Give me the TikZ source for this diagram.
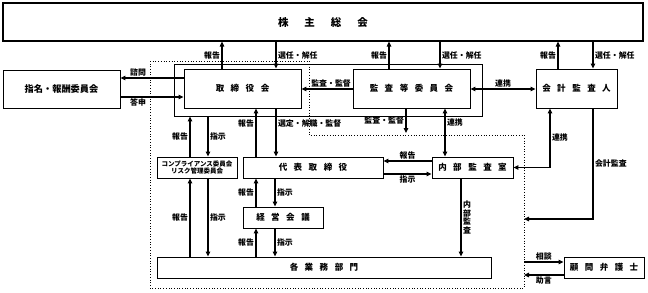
\documentclass[tikz,border=0pt]{standalone}
\usepackage{fontspec}
\setmainfont{Noto Sans CJK JP}
\usetikzlibrary{arrows.meta}
\newcommand\jg{\hspace{6.5pt}}
\newcommand\jgw{\hspace{16pt}}
\begin{document}
\begin{tikzpicture}[x=1pt,y=-1pt,
 box/.style={draw, line width=0.9pt, inner sep=0pt, font=\fontsize{8.5pt}{10pt}\selectfont\bfseries},
 lbl/.style={inner sep=1.5pt, font=\fontsize{7.9pt}{8.6pt}\selectfont\bfseries},
 arr/.style={line width=1.1pt, -{Triangle[length=5pt,width=4.5pt]}},
 darr/.style={line width=1.1pt, {Triangle[length=5pt,width=4.5pt]}-{Triangle[length=5pt,width=4.5pt]}},
 dots/.style={dotted, line width=0.7pt}]
\useasboundingbox (0,0) rectangle (648,292);
% boxes
\node[box, minimum width=640pt, minimum height=38pt, line width=1.2pt, font=\fontsize{10.5pt}{12pt}\selectfont\bfseries] (soukai) at (323,22) {株\jgw 主\jgw 総\jgw 会};
\node[box, minimum width=117pt, minimum height=38pt, font=\fontsize{9.2pt}{11pt}\selectfont\bfseries] (shimei) at (61.5,89) {指名・報酬委員会};
\node[box, minimum width=308pt, minimum height=52pt] (toriout) at (328,90) {};
\node[box, minimum width=117pt, minimum height=39pt] (tori) at (242.5,88.5) {取\jg 締\jg 役\jg 会};
\node[box, minimum width=117pt, minimum height=39pt] (kansa) at (411.5,88.5) {監\jg 査\jg 等\jg 委\jg 員\jg 会};
\node[box, minimum width=81pt, minimum height=39pt] (kaikei) at (576.5,88.5) {会\jg 計\jg 監\jg 査\jg 人};
\node[box, minimum width=80pt, minimum height=21pt, align=center, font=\fontsize{6.5pt}{7.6pt}\selectfont\bfseries] (comp) at (197,167.5) {コンプライアンス委員会\\リスク管理委員会};
\node[box, minimum width=140pt, minimum height=21pt] (daihyo) at (313,167.5) {代\jg 表\jg 取\jg 締\jg 役};
\node[box, minimum width=81pt, minimum height=21pt] (naibu) at (472.5,167.5) {内\jg 部\jg 監\jg 査\jg 室};
\node[box, minimum width=80pt, minimum height=21pt] (keiei) at (283,217.5) {経\jg 営\jg 会\jg 議};
\node[box, minimum width=334pt, minimum height=21pt] (gyomu) at (324,267.5) {各\jg 業\jg 務\jg 部\jg 門};
\node[box, minimum width=80pt, minimum height=21pt] (komon) at (604,267.5) {顧\jg 問\jg 弁\jg 護\jg 士};
% dotted region
\draw[dots] (150,61) -- (309,61) -- (309,135) -- (524,135) -- (524,288) -- (150,288) -- cycle;
\coordinate (kdend) at (406,133);
\coordinate (kaikeiin) at (524,219);
\coordinate (sodan) at (524,262);
\coordinate (jogen) at (524,275);
% connectors top
\draw[arr] (222,0 |- tori.north) -- node[lbl,left]{報告} (222,0 |- soukai.south);
\draw[arr] (276,0 |- soukai.south) -- node[lbl,right]{選任・解任} (276,0 |- tori.north);
\draw[arr] (389,0 |- kansa.north) -- node[lbl,left]{報告} (389,0 |- soukai.south);
\draw[arr] (440,0 |- soukai.south) -- node[lbl,right]{選任・解任} (440,0 |- kansa.north);
\draw[arr] (558,0 |- kaikei.north) -- node[lbl,left]{報告} (558,0 |- soukai.south);
\draw[arr] (593,0 |- soukai.south) -- node[lbl,right]{選任・解任} (593,0 |- kaikei.north);
\draw[arr] (tori.west |- 0,78) -- node[lbl,above,pos=0.72]{諮問} (shimei.east |- 0,78);
\draw[arr] (shimei.east |- 0,97) -- node[lbl,below,pos=0.28]{答申} (tori.west |- 0,97);
\draw[arr] (kansa.west |- 0,89) -- node[lbl,above,pos=0.42]{監査・監督} (tori.east |- 0,89);
\draw[darr] (kansa.east |- 0,89) -- node[lbl,above]{連携} (kaikei.west |- 0,89);
\draw[arr] (406,0 |- kansa.south) -- node[lbl,left]{監査・監督} (kdend);
\draw[darr] (445,0 |- kansa.south) -- node[lbl,right,pos=0.29]{連携} (445,0 |- naibu.north);
\draw[darr] (naibu.east) -| node[lbl,right,pos=0.75]{連携} (550,0 |- kaikei.south);
\draw[arr] (593,0 |- kaikei.south) |- node[lbl,right,pos=0.25]{会計監査} (kaikeiin);
\draw[arr] (sodan) -- node[lbl,above]{相談} (sodan -| komon.west);
\draw[arr] (jogen -| komon.west) -- node[lbl,below]{助言} (jogen);
% compliance
\draw[arr] (190,0 |- comp.north) -- node[lbl,left]{報告} (190,0 |- toriout.south);
\draw[arr] (208,0 |- toriout.south) -- node[lbl,right]{指示} (208,0 |- comp.north);
\draw[arr] (190,0 |- gyomu.north) -- node[lbl,left]{報告} (190,0 |- comp.south);
\draw[arr] (208,0 |- comp.south) -- node[lbl,right]{指示} (208,0 |- gyomu.north);
% daihyo
\draw[arr] (256,0 |- daihyo.north) -- node[lbl,left,pos=0.69]{報告} (256,0 |- tori.south);
\draw[arr] (276,0 |- tori.south) -- node[lbl,right,pos=0.31]{選定・解職・監督} (276,0 |- daihyo.north);
\draw[arr] (naibu.west |- 0,161) -- node[lbl,above]{報告} (daihyo.east |- 0,161);
\draw[arr] (daihyo.east |- 0,174) -- node[lbl,below]{指示} (naibu.west |- 0,174);
\draw[arr] (461,0 |- naibu.south) -- node[lbl,right,align=center]{内\\部\\監\\査} (461,0 |- gyomu.north);
\draw[arr] (256,0 |- keiei.north) -- node[lbl,left]{報告} (256,0 |- daihyo.south);
\draw[arr] (275,0 |- daihyo.south) -- node[lbl,right]{指示} (275,0 |- keiei.north);
\draw[arr] (256,0 |- gyomu.north) -- node[lbl,left]{報告} (256,0 |- keiei.south);
\draw[arr] (275,0 |- keiei.south) -- node[lbl,right]{指示} (275,0 |- gyomu.north);
\end{tikzpicture}
\end{document}
